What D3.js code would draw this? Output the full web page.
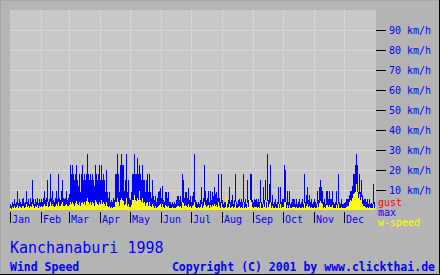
<!DOCTYPE html>
<html>
<head>
	<title>Kanchanaburi 1998 : Wind Speed</title>
	<script src="https://d3js.org/d3.v7.min.js"></script>
	<style type="text/css">
		body { margin: 0; background: #b4b4b4; }
		svg { display: block; }
		text { font-family: "DejaVu Sans Mono", monospace; }
	</style>
</head>
<body>
	<svg width="440" height="275"></svg>

<script type="text/javascript">
	const months = ['Jan','Feb','Mar','Apr','May','Jun','Jul','Aug','Sep','Oct','Nov','Dec'];
	const yTicks = [10, 20, 30, 40, 50, 60, 70, 80, 90];
	const legend = ['gust', 'max', 'w-speed'];

	// daily max wind (km/h), Jan..Dec 1998
	const maxWind = [
		3,2,4,3,5.5,3,4,9.5,3.5,5.5,4,3,5.5,6,3.5,4,9.5,4,5.5,3,6,4,15,5.5,3,5.5,4,6,3.5,5.5,4,
		5.5,4,6,9.5,5,6,15,4,5.5,18,6,9.5,5,4,6,9.5,5.5,18,6,5,9.5,15,6,5.5,6,9.5,5,6,
		8,22.5,18,22.5,18,15,18,22.5,15,12,18,9,18,22.5,15,18,15,18,28,18,15,18,15,18,15,12,22.5,18,15,18,22.5,
		15,22.5,15,18,15,9,20,9,6,9,4,5,4,6,5,18,18,28,18,9,22.5,28,22.5,22.5,9.5,15,28,9,15,6,
		5,9,18,18,28,18,18,26,18,22.5,18,15,22.5,15,15,9,15,18,9,18,9,6,15,7,5,7,4,6,9,9.5,11,
		6,12,5,4,9,9,6,9,4,4,3,4,3,4,3,5,7,7,5,7,4,18,15,6,9,9,6,11,5,7,
		4,7,9,28,5,4,3,4,3,5,11.5,4,6,22.5,9.5,5,6,9.5,4,9.5,5,9,7,11.5,8,9,6,18,6,4,18,
		5,3,4,4,4,3,5,11.5,4,5,7.5,3,5,18,4,3,5,5.5,4,5.5,4,18,4,5.5,3,15,5,5.5,18,18,5,
		4,5.5,5,5.5,4,5.5,4,15,4,3,11.5,5,15,4,28,5,13,22.5,4,7.5,3,4,5.5,3,4,11.5,3,11.5,4,5.5,
		5.5,22.5,20,4,9.5,4,9.5,3,4,5.5,5.5,5.5,3,5.5,3,4,5.5,3,4,5.5,3,18,4,7.5,11.5,5,7.5,4,5.5,3,4,
		5.5,4,3,9.5,5,11.5,15,11.5,9.5,4,5.5,3,9.5,9.5,5.5,9.5,5.5,5.5,9.5,4,3,4,9.5,3,18,4,3,5.5,3,3,
		3.5,4,5.5,5.5,5.5,7.5,9.5,9.5,12,18,18,22.5,28,22.5,9,18,9,15,7.5,5,5.5,5.5,4,5.5,3,5.5,3,3.5,3,13,4
	];

	// daily average wind speed (km/h)
	const windSpeed = [
		1,0.5,1.5,1,2,1,1.5,2.5,1,2,1.5,1,2,2,1,1.5,3,1.5,2,1,2,1.5,3,2,1,2,1.5,2.5,1,2,1.5,
		2,1.5,2,3,2,2,4,1.5,2,4,2,3,2,1.5,2,3,2,4,2,2,3,4,2,2,2.5,3,2,2,
		2.5,4,3,4,3,2,3.5,4.5,3,2.5,4,2,3.5,4,3,4,2.5,4.5,6,4,3,4,2.5,4,3.5,2,5,4,3,2.5,4,
		3,5,3,4,3,2,4,2,1.5,2,1,1.5,1,1.5,1.5,4,4,6,4,2,5,6,5,4.5,2.5,3,6,2,3,1.5,
		1.5,2.5,5,5,7.5,5,4.5,6,5,9.5,5,4,6,3.5,4,2,3.5,4,2,4,2,1.5,3,2,1,2,1,1.5,2,2.5,3,
		1.5,3,1.5,1,2.5,2,1.5,2,1,1,1,1.5,1,1,1,1.5,2,2,1.5,2,1,4,3.5,2,2.5,2,1.5,3,1.5,2,
		1,2,2.5,4,1.5,1,1,1.5,1,1.5,3,1,2,4,2.5,1.5,2,2.5,1,2.5,1.5,2.5,2,3,2,2.5,1.5,4,2,1,3.5,
		1.5,1,1,1.5,6.5,1,1.5,3,1,1.5,2,1,1.5,4,1,1,1.5,2,1,1.5,1,4,1,1.5,1,3.5,1.5,5.5,5,4,1.5,
		1,1.5,1.5,1.5,1,1.5,1,3.5,1,1,3,1.5,5,1,4.5,1.5,3,4,1,2,1,1,1.5,1,1,3,1,3,1,1.5,
		1.5,4,4,1,2.5,1,2.5,1,1,1.5,1.5,1.5,1,1.5,1,1,1.5,1,1,1.5,1,3.5,1,2,3,1.5,2,1,1.5,1,1,
		1.5,1,1,3,1.5,3.5,4.5,3.5,3,1,1.5,1,2.5,2.5,1.5,2.5,1.5,1.5,2.5,1,1,1,2.5,1,3,1,1,1.5,1,1,
		1,1,1.5,2,2,4,5,4.5,6,8,8.5,9,13,9,6,8,5,6.5,3,2,2,1.5,1,1.5,1,1.5,1,1,1,3,1
	];

	const svg = d3.select("svg");
	const W = +svg.attr("width"), H = +svg.attr("height");
	const plot = {left: 10, top: 10, right: 376, bottom: 210};

	const start = new Date(1998, 0, 1), end = new Date(1999, 0, 1);
	const xscale = d3.scaleTime().domain([start, end]).range([plot.left, plot.right - 1]);
	const yscale = d3.scaleLinear().domain([0, 100]).range([plot.bottom, plot.top]);
	const day = i => d3.timeDay.offset(start, i);

	// frame
	svg.append("rect").attr("width", W).attr("height", H).attr("fill", "#b4b4b4");
	svg.append("rect").attr("x", plot.left).attr("y", plot.top)
		.attr("width", plot.right - plot.left).attr("height", plot.bottom - plot.top)
		.attr("fill", "#c8c8c8");

	const grid = svg.append("g").attr("shape-rendering", "crispEdges")
		.attr("stroke", "#d6d6d6").attr("stroke-width", 1);
	grid.selectAll(".hg").data(yTicks).enter().append("line")
		.attr("x1", plot.left).attr("x2", plot.right)
		.attr("y1", d => yscale(d) + 0.5).attr("y2", d => yscale(d) + 0.5);
	const monthStarts = d3.timeMonth.range(start, end);
	grid.selectAll(".vg").data(monthStarts.slice(1)).enter().append("line")
		.attr("x1", d => xscale(d) + 0.5).attr("x2", d => xscale(d) + 0.5)
		.attr("y1", plot.top).attr("y2", plot.bottom);

	// bars
	const bars = svg.append("g").attr("shape-rendering", "crispEdges");
	bars.selectAll(".max").data(maxWind).enter().append("rect")
		.attr("x", (d, i) => xscale(day(i)))
		.attr("y", d => yscale(d))
		.attr("width", 1)
		.attr("height", d => yscale(0) - yscale(d))
		.attr("fill", "#0000ff");
	bars.selectAll(".spd").data(windSpeed).enter().append("rect")
		.attr("x", (d, i) => xscale(day(i)))
		.attr("y", d => yscale(d))
		.attr("width", 1)
		.attr("height", d => yscale(0) - yscale(d))
		.attr("fill", "#ffff00");

	// right axis
	const yAxis = svg.append("g").attr("shape-rendering", "crispEdges");
	yAxis.selectAll("line").data(yTicks).enter().append("line")
		.attr("x1", plot.right).attr("x2", plot.right + 10)
		.attr("y1", d => yscale(d) + 0.5).attr("y2", d => yscale(d) + 0.5)
		.attr("stroke", "#000");
	yAxis.selectAll("text").data(yTicks).enter().append("text")
		.attr("x", plot.right + 13).attr("y", d => yscale(d) + 4)
		.attr("font-size", 10).attr("fill", "#0000ff")
		.text(d => d + " km/h");

	// month axis
	const xAxis = svg.append("g").attr("shape-rendering", "crispEdges");
	xAxis.selectAll("line").data(monthStarts).enter().append("line")
		.attr("x1", d => xscale(d) + 0.5).attr("x2", d => xscale(d) + 0.5)
		.attr("y1", plot.bottom + 2).attr("y2", plot.bottom + 13)
		.attr("stroke", "#000");
	xAxis.selectAll("text").data(monthStarts).enter().append("text")
		.attr("x", d => xscale(d) + 2).attr("y", plot.bottom + 12.5)
		.attr("font-size", 10).attr("fill", "#0000ff")
		.text((d, i) => months[i]);

	// legend
	const legendColors = ["#ff0000", "#0000ff", "#ffff00"];
	svg.selectAll(".legend").data(legend).enter().append("text")
		.attr("x", plot.right + 2).attr("y", (d, i) => 205.5 + i * 10)
		.attr("font-size", 10).attr("fill", (d, i) => legendColors[i])
		.text(d => d);

	// titles
	svg.append("text").attr("x", 10).attr("y", 252.5)
		.attr("font-size", 15).attr("fill", "#0000ff")
		.text("Kanchanaburi 1998");
	svg.append("text").attr("x", 10).attr("y", 270.5)
		.attr("font-size", 11.5).attr("font-weight", "bold").attr("fill", "#0000ff")
		.text("Wind Speed");
	svg.append("text").attr("x", 435).attr("y", 270.5).attr("text-anchor", "end")
		.attr("font-size", 11.5).attr("font-weight", "bold").attr("fill", "#0000ff")
		.text("Copyright (C) 2001 by www.clickthai.de");

	// outer border: grey top/left, black right/bottom
	const border = svg.append("g").attr("shape-rendering", "crispEdges");
	border.append("line").attr("x1", 0.5).attr("x2", 0.5).attr("y1", 0).attr("y2", H).attr("stroke", "#a4a4a4");
	border.append("line").attr("x1", 0).attr("x2", W).attr("y1", 0.5).attr("y2", 0.5).attr("stroke", "#a4a4a4");
	border.append("line").attr("x1", W - 0.5).attr("x2", W - 0.5).attr("y1", 0).attr("y2", H).attr("stroke", "#000");
	border.append("line").attr("x1", 0).attr("x2", W).attr("y1", H - 0.5).attr("y2", H - 0.5).attr("stroke", "#000");
</script>
</body>
</html>
